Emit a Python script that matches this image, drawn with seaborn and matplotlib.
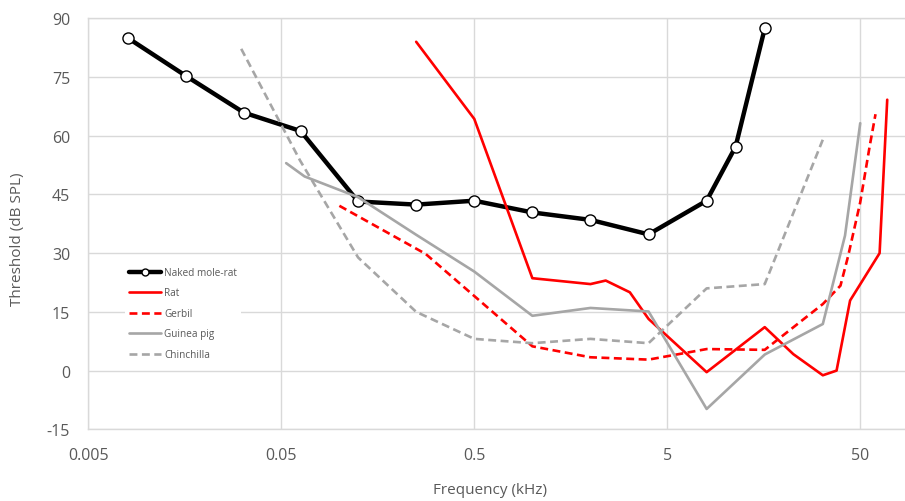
import numpy as np
import pandas as pd
import matplotlib
matplotlib.use('Agg')
import matplotlib.pyplot as plt
import seaborn as sns
from matplotlib.lines import Line2D
from matplotlib.ticker import FixedLocator, NullLocator

# audiogram data (frequency in kHz, threshold in dB SPL)
nmr_freq = [0.008, 0.016, 0.032, 0.063, 0.125, 0.25, 0.5, 1, 2, 4, 8, 11.3, 16]
nmr_thr = [85.0, 75.3, 65.9, 61.2, 43.2, 42.4, 43.4, 40.4, 38.5, 34.8, 43.4, 57.2, 87.4]

rat_freq = [0.25, 0.5, 1, 2, 2.4, 3.2, 4, 8, 16, 22.5, 32, 37.7, 44.3, 63, 69]
rat_thr = [84.0, 64.3, 23.6, 22.1, 23.0, 20.0, 13.2, -0.4, 11.1, 4.2, -1.2, 0.0, 17.9, 30.0, 69.2]

gerbil_freq = [0.1, 0.28, 1, 2, 4, 8, 16, 32, 39.5, 43.3, 50, 56, 60]
gerbil_thr = [42.1, 29.8, 6.2, 3.4, 2.8, 5.5, 5.3, 17.0, 21.7, 29.3, 43.0, 57.4, 65.5]

guinea_freq = [0.053, 0.066, 0.125, 0.25, 0.5, 1, 2, 4, 8, 16, 32, 41.7, 50]
guinea_thr = [53.0, 49.6, 44.3, 34.7, 25.3, 14.0, 16.0, 15.1, -9.8, 4.1, 11.9, 34.5, 63.2]

chin_freq = [0.031, 0.0625, 0.125, 0.25, 0.5, 1, 2, 4, 8, 16, 32]
chin_thr = [82.2, 53.7, 28.9, 15.0, 8.1, 7.0, 8.1, 7.0, 21.0, 22.1, 59.0]

x_ticks = [0.005, 0.05, 0.5, 5, 50]
x_labels = ['0.005', '0.05', '0.5', '5', '50']
y_ticks = [-15, 0, 15, 30, 45, 60, 75, 90]

sns.set_style('white')
plt.rcParams['font.family'] = ['Open Sans', 'DejaVu Sans']
plt.rcParams['axes.unicode_minus'] = False

fig = plt.figure(figsize=(9.05, 5.02), dpi=100)
ax = fig.add_axes([88.3 / 905, 1 - 430.3 / 502, 1 - 88.3 / 905, 411 / 502])

grid_c = '#d9d9d9'
text_c = '#595959'
red = '#ff0000'
gray = '#a6a6a6'

sns.lineplot(x=nmr_freq, y=nmr_thr, ax=ax, estimator=None, sort=False, color='black', lw=3.2,
             marker='o', markersize=8, markerfacecolor='white', markeredgecolor='black',
             markeredgewidth=1, legend=False)
sns.lineplot(x=rat_freq, y=rat_thr, ax=ax, estimator=None, sort=False, color=red, lw=1.9, legend=False)
sns.lineplot(x=gerbil_freq, y=gerbil_thr, ax=ax, estimator=None, sort=False, color=red, lw=1.9,
             linestyle=(0, (3, 1.7)), legend=False)
sns.lineplot(x=guinea_freq, y=guinea_thr, ax=ax, estimator=None, sort=False, color=gray, lw=1.9, legend=False)
sns.lineplot(x=chin_freq, y=chin_thr, ax=ax, estimator=None, sort=False, color=gray, lw=1.9,
             linestyle=(0, (3, 1.7)), legend=False)

ax.set_xscale('log')
ax.set_xlim(0.005, 85.3)
ax.set_ylim(-15, 90)
ax.xaxis.set_major_locator(FixedLocator(x_ticks))
ax.xaxis.set_minor_locator(NullLocator())
ax.set_xticklabels(x_labels)
ax.set_yticks(y_ticks)
ax.grid(True, color=grid_c, lw=1)
ax.set_axisbelow(True)
ax.tick_params(axis='both', length=0, labelsize=11.5, labelcolor=text_c, pad=13)
for s in ['left', 'bottom', 'top']:
    ax.spines[s].set_color(grid_c)
    ax.spines[s].set_linewidth(1)
ax.spines['right'].set_visible(False)
ax.set_xlabel('')
ax.set_ylabel('')

fig.text(18 / 905, 1 - 239 / 502, 'Threshold (dB SPL)', rotation=90, ha='center', va='center',
         fontsize=11, color=text_c)
fig.text(490 / 905, 1 - 491 / 502, 'Frequency (kHz)', ha='center', va='center',
         fontsize=11, color=text_c)

handles = [
    Line2D([], [], color='black', lw=3.2, marker='o', markersize=5, markerfacecolor='white',
           markeredgecolor='black', markeredgewidth=1),
    Line2D([], [], color=red, lw=1.9),
    Line2D([], [], color=red, lw=1.9, linestyle=(0, (3, 1.7))),
    Line2D([], [], color=gray, lw=1.9),
    Line2D([], [], color=gray, lw=1.9, linestyle=(0, (3, 1.7))),
]
labels = ['Naked mole-rat', 'Rat', 'Gerbil', 'Guinea pig', 'Chinchilla']
leg = ax.legend(handles, labels, loc='upper left', bbox_to_anchor=(125 / 905, 1 - 264 / 502),
                bbox_transform=fig.transFigure, fontsize=7.2, frameon=True, fancybox=False,
                framealpha=1, facecolor='white', edgecolor='none', handlelength=3.2,
                handletextpad=0.3, labelspacing=0.95, borderpad=0.4, borderaxespad=0)
for t in leg.get_texts():
    t.set_color(text_c)

fig.savefig('out.png', dpi=100)
